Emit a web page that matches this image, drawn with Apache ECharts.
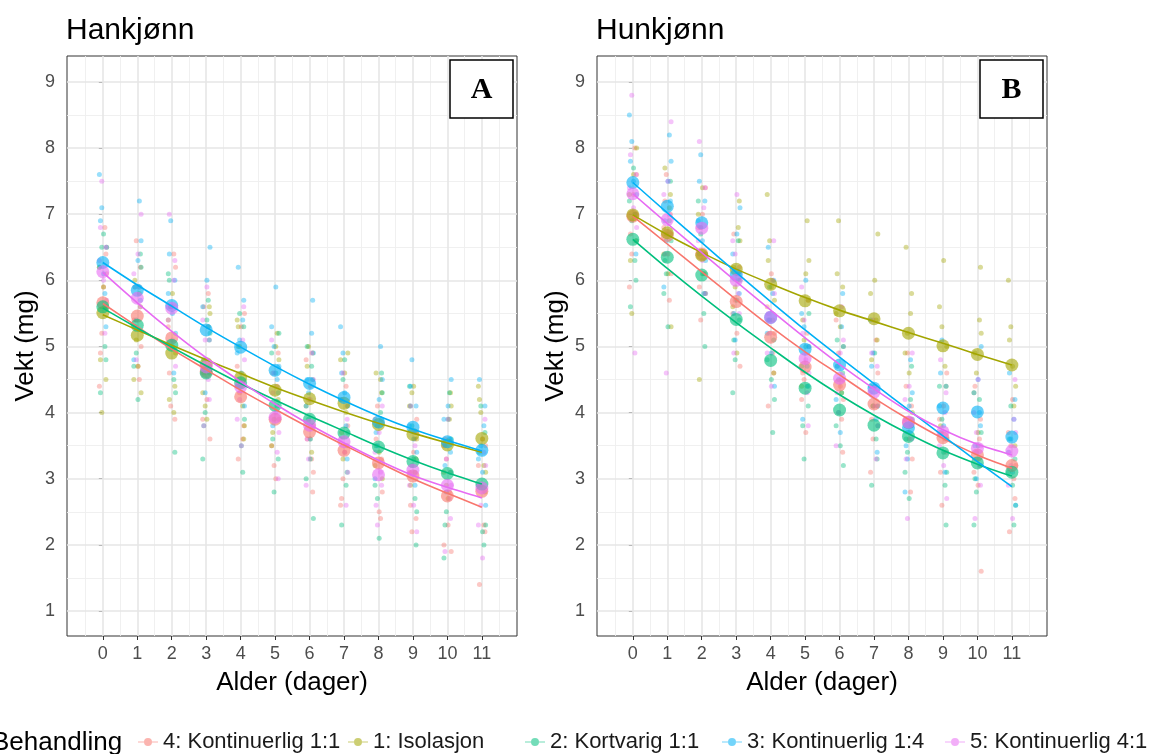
<!DOCTYPE html>
<html>
<head>
<meta charset="utf-8">
<script src="https://cdn.jsdelivr.net/npm/echarts@6/dist/echarts.min.js"></script>
<style>
  html, body { margin: 0; padding: 0; background: #fff; }
  #chart { width: 1153px; height: 754px; }
</style>
</head>
<body>
<div id="chart"></div>
<script>
var days = [0, 1, 2, 3, 4, 5, 6, 7, 8, 9, 10, 11];
var yTicks = [1, 2, 3, 4, 5, 6, 7, 8, 9];
var groups = ['4: Kontinuerlig 1:1', '1: Isolasjon', '2: Kortvarig 1:1', '3: Kontinuerlig 1:4', '5: Kontinuerlig 4:1'];
var colors = ['#F8766D', '#A3A500', '#00BF7D', '#00B0F6', '#E76BF3'];

// Hankjønn (A) - gjennomsnitt per dag
var meanA_red = [5.66, 5.46, 5.13, 4.62, 4.24, 3.90, 3.71, 3.43, 3.24, 3.04, 2.74, 2.81];
var meanA_olive = [5.51, 5.17, 4.90, 4.74, 4.53, 4.34, 4.21, 4.14, 3.82, 3.67, 3.51, 3.61];
var meanA_green = [5.60, 5.32, 5.02, 4.60, 4.45, 4.11, 3.90, 3.69, 3.48, 3.26, 3.08, 2.92];
var meanA_blue = [6.27, 5.85, 5.62, 5.25, 4.99, 4.64, 4.44, 4.23, 3.86, 3.78, 3.56, 3.43];
var meanA_pink = [6.13, 5.73, 5.58, 4.69, 4.39, 3.93, 3.81, 3.56, 3.06, 3.13, 2.90, 2.86];
// tilpassede kurver
var fitA_red = [5.65, 5.30, 4.96, 4.65, 4.34, 4.05, 3.77, 3.51, 3.25, 3.00, 2.78, 2.57];
var fitA_olive = [5.48, 5.25, 5.02, 4.80, 4.59, 4.38, 4.19, 4.01, 3.84, 3.69, 3.54, 3.40];
var fitA_green = [5.58, 5.28, 4.99, 4.71, 4.44, 4.19, 3.95, 3.72, 3.49, 3.28, 3.09, 2.92];
var fitA_blue = [6.27, 5.93, 5.61, 5.29, 4.99, 4.70, 4.43, 4.18, 3.95, 3.75, 3.58, 3.42];
var fitA_pink = [6.12, 5.66, 5.23, 4.83, 4.47, 4.13, 3.82, 3.54, 3.28, 3.05, 2.87, 2.71];

// Hunkjønn (B)
var meanB_red = [6.97, 6.68, 6.40, 5.68, 5.14, 4.69, 4.42, 4.13, 3.85, 3.62, 3.36, 3.20];
var meanB_olive = [6.99, 6.72, 6.38, 6.17, 5.94, 5.69, 5.54, 5.42, 5.20, 5.01, 4.88, 4.72];
var meanB_green = [6.62, 6.35, 6.08, 5.41, 4.79, 4.37, 4.04, 3.81, 3.64, 3.39, 3.24, 3.10];
var meanB_blue = [7.48, 7.12, 6.87, 6.08, 5.44, 4.96, 4.72, 4.37, 3.77, 4.07, 4.01, 3.63];
var meanB_pink = [7.31, 6.92, 6.79, 6.00, 5.44, 4.82, 4.52, 4.31, 3.86, 3.71, 3.46, 3.42];
var fitB_red = [6.97, 6.55, 6.13, 5.71, 5.30, 4.92, 4.57, 4.22, 3.90, 3.61, 3.36, 3.16];
var fitB_olive = [6.99, 6.69, 6.42, 6.17, 5.95, 5.74, 5.55, 5.38, 5.21, 5.05, 4.88, 4.72];
var fitB_green = [6.62, 6.18, 5.76, 5.36, 4.98, 4.61, 4.27, 3.96, 3.68, 3.43, 3.22, 3.04];
var fitB_blue = [7.48, 7.02, 6.57, 6.12, 5.68, 5.25, 4.84, 4.44, 4.04, 3.65, 3.26, 2.88];
var fitB_pink = [7.31, 6.86, 6.42, 5.98, 5.55, 5.13, 4.73, 4.36, 4.02, 3.74, 3.52, 3.36];

// enkeltmålinger, en streng per dag (0..11)
var rawA_red = ['4.4 6.8 5.2 6.1 4.9 5.9 6.4', '4.5 6.6 5.0 5.9 4.7 6.2 5.4', '4.1 6.2 4.6 5.6 3.9 5.3 6.4', '3.6 5.6 4.2 5.1 3.9 5.8 4.7', '3.3 5.3 3.8 4.7 3.6 4.3 5.5', '3.0 4.9 3.5 4.4 3.2 3.9 4.6', '2.8 4.8 3.3 4.2 3.1 3.6 4.4', '2.6 4.4 3.0 3.8 2.7 3.4 4.1', '2.4 4.1 2.8 3.6 2.5 3.3 3.9', '2.2 3.9 2.6 3.4 2.4 3.1 3.6', '1.9 3.6 2.3 3.1 2.0 2.8 3.3', '1.4 3.6 2.2 3.2 2.3 2.9 3.5'];
var rawA_olive = ['4.0 6.5 4.8 5.9 4.5 6.2 5.6', '4.3 6.0 4.7 5.6 4.5 5.8 5.1', '4.2 5.8 4.4 5.4 4.0 5.6 4.9', '3.9 5.6 4.3 5.3 4.1 5.5 4.6', '3.6 5.4 4.1 5.0 3.8 5.3 4.4', '3.5 5.2 3.9 4.8 3.7 5.0 4.2', '3.4 5.0 3.8 4.7 3.6 4.9 4.1', '3.3 4.9 3.7 4.6 3.5 4.8 4.0', '3.0 4.6 3.4 4.3 3.2 4.5 3.8', '2.9 4.4 3.3 4.1 3.1 4.3 3.6', '2.7 4.3 3.1 3.9 2.9 4.1 3.5', '2.8 4.4 3.2 4.0 3.1 4.2 3.6'];
var rawA_green = ['4.3 6.7 4.8 6.2 5.0 6.5 5.6', '4.2 6.4 4.7 5.9 4.9 6.2 5.3', '3.4 6.1 4.5 5.6 4.3 6.0 5.0', '3.3 5.7 4.0 5.2 3.8 5.4 4.6', '3.1 5.5 3.9 5.0 3.5 5.3 4.4', '2.8 5.2 3.6 4.6 3.3 4.9 4.1', '2.4 5.0 3.3 4.5 3.0 4.7 3.9', '2.3 4.8 3.1 4.2 2.9 4.5 3.7', '2.1 4.6 2.9 4.0 2.7 4.3 3.5', '2.0 4.4 2.7 3.8 2.5 4.1 3.3', '1.8 4.3 2.5 3.6 2.3 3.9 3.1', '2.0 4.1 2.3 3.4 2.2 3.7 2.9'];
var rawA_blue = ['5.3 7.6 5.8 7.1 6.5 6.9 6.1', '4.8 7.2 5.4 6.6 5.9 6.3 5.7', '4.6 6.9 5.2 6.4 5.5 6.0 5.8', '4.3 6.5 4.8 6.0 5.1 5.6 5.3', '4.1 6.2 4.6 5.7 4.9 5.4 5.1', '3.8 5.9 4.3 5.3 4.5 5.0 4.7', '3.6 5.7 4.1 5.2 4.3 4.9 4.5', '3.3 5.3 3.8 4.9 4.1 4.6 4.3', '3.0 5.0 3.5 4.5 3.7 4.2 3.9', '2.9 4.8 3.4 4.4 3.6 4.1 3.8', '2.8 4.5 3.2 4.1 3.4 3.9 3.6', '2.6 4.5 3.1 4.1 3.3 3.8 3.5'];
var rawA_pink = ['5.2 7.5 5.7 6.8 6.0 6.5 6.3', '4.8 7.0 5.3 6.4 5.6 6.1 5.9', '4.7 7.0 5.1 6.3 5.4 6.0 5.6', '3.8 5.9 4.2 5.4 4.5 5.1 4.7', '3.5 5.6 3.9 5.1 4.2 4.8 4.4', '3.0 5.1 3.4 4.6 3.7 4.3 4.0', '2.9 4.9 3.3 4.5 3.6 4.2 3.8', '2.6 4.6 3.1 4.2 3.4 3.9 3.6', '2.3 4.1 2.6 3.7 2.9 3.4 3.1', '2.2 4.1 2.6 3.7 2.9 3.5 3.2', '1.9 3.9 2.4 3.5 2.7 3.3 2.9', '1.8 3.9 2.3 3.4 2.6 3.2 2.9'];

var rawB_red = ['5.9 8.0 6.4 7.6 6.7 7.3 7.0', '5.7 7.6 6.1 7.2 6.4 7.0 6.8', '5.4 7.4 5.9 7.0 6.1 6.8 6.4', '4.7 6.7 5.2 6.2 5.5 6.0 5.7', '4.1 6.1 4.6 5.6 4.9 5.4 5.2', '3.7 5.7 4.2 5.2 4.5 5.0 4.6', '3.4 5.4 3.9 4.9 4.2 4.7 4.4', '3.1 5.1 3.6 4.6 3.9 4.4 4.1', '2.8 4.9 3.3 4.4 3.6 4.1 3.9', '2.6 4.6 3.1 4.1 3.4 3.9 3.6', '1.6 4.4 2.9 3.9 3.1 3.6 3.4', '2.2 4.2 2.7 3.7 3.0 3.5 3.2'];
var rawB_olive = ['5.5 8.0 6.3 7.6 6.6 7.3 7.0', '5.3 7.7 6.1 7.3 6.4 7.1 6.7', '4.5 7.4 5.8 7.0 6.1 6.8 6.4', '4.9 7.2 5.6 6.8 5.9 6.6 6.2', '4.6 7.3 5.4 6.6 5.7 6.3 5.9', '4.4 6.9 5.1 6.3 5.4 6.1 5.7', '4.3 6.9 5.0 6.1 5.3 5.9 5.5', '4.1 6.7 4.8 6.0 5.1 5.8 5.4', '4.0 6.5 4.6 5.8 4.9 5.5 5.2', '3.8 6.3 4.4 5.6 4.7 5.3 5.0', '3.7 6.2 4.3 5.4 4.6 5.2 4.9', '3.5 6.0 4.1 5.3 4.4 5.1 4.7'];
var rawB_green = ['5.6 7.7 6.0 7.2 6.3 6.9 6.6', '5.3 7.5 5.8 6.9 6.1 6.6 6.3', '5.0 7.2 5.5 6.7 5.8 6.4 6.1', '4.3 6.6 4.8 6.0 5.1 5.7 5.4', '3.7 5.9 4.2 5.4 4.5 5.1 4.8', '3.3 5.5 3.8 5.0 4.1 4.7 4.4', '3.2 5.1 3.5 4.6 3.8 4.3 4.0', '2.9 4.9 3.3 4.4 3.6 4.1 3.8', '2.7 4.7 3.1 4.2 3.4 3.9 3.6', '2.3 4.4 2.9 3.9 3.1 3.7 3.4', '2.3 4.2 2.8 3.7 3.0 3.5 3.2', '2.3 4.1 2.6 3.6 2.9 3.3 3.1'];
var rawB_blue = ['6.4 8.5 7.0 8.1 7.3 7.8 7.5', '5.9 8.2 6.6 7.8 6.9 7.5 7.2', '5.8 7.9 6.3 7.5 6.6 7.2 6.9', '5.1 7.1 5.5 6.7 5.8 6.4 6.1', '4.4 6.5 4.9 6.0 5.2 5.8 5.4', '3.9 6.0 4.4 5.5 4.7 5.3 5.0', '3.7 5.8 4.2 5.3 4.5 5.0 4.7', '3.4 5.4 3.9 4.9 4.1 4.7 4.4', '2.8 4.8 3.3 4.3 3.5 4.1 3.8', '3.1 5.1 3.6 4.6 3.8 4.4 4.1', '3.0 5.0 3.5 4.5 3.8 4.3 4.0', '2.6 4.6 3.1 4.2 3.4 3.9 3.6'];
var rawB_pink = ['4.9 8.8 6.8 7.9 7.1 7.6 7.4', '4.6 8.4 6.4 7.5 6.7 7.3 7.0', '5.8 8.1 6.3 7.4 6.6 7.1 6.8', '4.9 7.3 5.5 6.6 5.8 6.4 6.1', '4.4 6.6 4.9 6.0 5.2 5.8 5.5', '3.8 5.9 4.3 5.4 4.6 5.2 4.8', '3.5 5.6 4.0 5.1 4.3 4.9 4.5', '3.3 5.4 3.8 4.9 4.1 4.7 4.3', '2.4 4.9 3.3 4.4 3.6 4.2 3.9', '2.7 4.8 3.2 4.3 3.5 4.0 3.7', '2.4 4.5 2.9 4.0 3.2 3.7 3.5', '2.4 4.5 2.9 3.9 3.2 3.7 3.4'];

var jitter = [-0.10, 0.06, -0.03, 0.11, -0.07, 0.02, 0.09];
var FONT = '"Liberation Sans", Arial, sans-serif';

var panels = [
  { title: 'Hankjønn', tag: 'A', left: 67,
    raw: [rawA_red, rawA_olive, rawA_green, rawA_blue, rawA_pink],
    mean: [meanA_red, meanA_olive, meanA_green, meanA_blue, meanA_pink],
    fit: [fitA_red, fitA_olive, fitA_green, fitA_blue, fitA_pink] },
  { title: 'Hunkjønn', tag: 'B', left: 597,
    raw: [rawB_red, rawB_olive, rawB_green, rawB_blue, rawB_pink],
    mean: [meanB_red, meanB_olive, meanB_green, meanB_blue, meanB_pink],
    fit: [fitB_red, fitB_olive, fitB_green, fitB_blue, fitB_pink] }
];

function rawPoints(list, g) {
  var pts = [];
  list.forEach(function (s, d) {
    s.split(' ').map(Number).forEach(function (v, i) {
      pts.push([days[d] + jitter[(i + g * 2 + d) % 7], v]);
    });
  });
  return pts;
}

function gridLines() {
  var items = [];
  var xMinor = days.map(function (d) { return d - 0.5; }).concat([11.5]);
  var yMinor = yTicks.slice(1).map(function (t) { return t - 0.5; });
  xMinor.forEach(function (v) { items.push({ xAxis: v, lineStyle: { color: '#eeeeee', width: 0.9 } }); });
  yMinor.forEach(function (v) { items.push({ yAxis: v, lineStyle: { color: '#eeeeee', width: 0.9 } }); });
  days.forEach(function (v) { items.push({ xAxis: v, lineStyle: { color: '#e6e6e6', width: 1.6 } }); });
  yTicks.forEach(function (v) { items.push({ yAxis: v, lineStyle: { color: '#e6e6e6', width: 1.6 } }); });
  return items;
}

var grids = [], xAxes = [], yAxes = [], series = [], titles = [], graphics = [];

panels.forEach(function (p, pi) {
  grids.push({ left: p.left, top: 56, width: 450, height: 580, show: true,
    borderColor: '#333333', borderWidth: 1, backgroundColor: '#ffffff' });
  xAxes.push({
    type: 'value', gridIndex: pi, min: -1.04, max: 12.02,
    name: 'Alder (dager)', nameLocation: 'middle', nameGap: 34,
    nameTextStyle: { fontSize: 26, color: '#000', fontFamily: FONT },
    axisLine: { show: false },
    axisTick: { show: true, length: 4, customValues: days, lineStyle: { color: '#333' } },
    axisLabel: { customValues: days, fontSize: 18, color: '#4d4d4d', margin: 9, fontFamily: FONT },
    splitLine: { show: false }
  });
  yAxes.push({
    type: 'value', gridIndex: pi, min: 0.622, max: 9.393,
    name: 'Vekt (mg)', nameLocation: 'middle', nameGap: 28, nameRotate: 90,
    nameTextStyle: { fontSize: 26, color: '#000', fontFamily: FONT },
    axisLine: { show: false },
    axisTick: { show: true, length: 4, customValues: yTicks, lineStyle: { color: '#333' } },
    axisLabel: { customValues: yTicks, fontSize: 18, color: '#4d4d4d', margin: 12, fontFamily: FONT },
    splitLine: { show: false }
  });
  series.push({
    type: 'scatter', xAxisIndex: pi, yAxisIndex: pi, data: [], silent: true,
    markLine: { silent: true, z: 1, symbol: ['none', 'none'], animation: false,
      label: { show: false }, lineStyle: { type: 'solid' }, data: gridLines() }
  });
  groups.forEach(function (name, g) {
    series.push({
      name: name, type: 'scatter', xAxisIndex: pi, yAxisIndex: pi,
      data: rawPoints(p.raw[g], g), symbolSize: 5, z: 2,
      itemStyle: { color: colors[g], opacity: 0.4 }
    });
  });
  groups.forEach(function (name, g) {
    series.push({
      name: name, type: 'scatter', xAxisIndex: pi, yAxisIndex: pi,
      data: days.map(function (d, i) { return [d, p.mean[g][i]]; }),
      symbolSize: 13, z: 3,
      itemStyle: { color: colors[g], opacity: 0.6 }
    });
  });
  groups.forEach(function (name, g) {
    series.push({
      name: name, type: 'line', xAxisIndex: pi, yAxisIndex: pi, smooth: 0.3,
      data: days.map(function (d, i) { return [d, p.fit[g][i]]; }),
      symbol: 'none', z: 4,
      lineStyle: { color: colors[g], width: 1.6 }, itemStyle: { color: colors[g] }
    });
  });
  titles.push({ text: p.title, left: p.left - 1, top: 16, padding: 0,
    textStyle: { fontSize: 30, fontWeight: 'normal', color: '#000', fontFamily: FONT } });
  graphics.push({ type: 'rect', shape: { x: p.left + 383, y: 60, width: 63, height: 58 },
    style: { fill: '#fff', stroke: '#000', lineWidth: 1.5 }, z: 100 });
  graphics.push({ type: 'text', x: p.left + 414.5, y: 90, z: 101,
    style: { text: p.tag, fontSize: 30, fontWeight: 'bold', fontFamily: '"Liberation Serif", "DejaVu Serif", serif',
      fill: '#000', align: 'center', verticalAlign: 'middle' } });
});

graphics.push({ type: 'text', x: -8, y: 743, style: { text: 'Behandling', fontSize: 26, fontFamily: FONT,
  fill: '#000', align: 'left', verticalAlign: 'middle' } });

var legendLeft = [138, 348, 525, 722, 945];
var legends = groups.map(function (name, g) {
  return {
    data: [name], left: legendLeft[g], top: 731, selectedMode: false,
    itemWidth: 20, itemHeight: 8, itemGap: 0, padding: 0,
    icon: 'path://M0,3.5L20,3.5L20,4.5L0,4.5Z M14,4A4,4 0 1,1 6,4A4,4 0 1,1 14,4Z',
    itemStyle: { opacity: 0.55 },
    textStyle: { fontSize: 22, color: '#1a1a1a', fontFamily: FONT }
  };
});

var chart = echarts.init(document.getElementById('chart'));
chart.setOption({
  animation: false,
  backgroundColor: '#ffffff',
  textStyle: { fontFamily: FONT },
  title: titles,
  grid: grids,
  xAxis: xAxes,
  yAxis: yAxes,
  legend: legends,
  series: series,
  graphic: graphics
});
</script>
</body>
</html>
